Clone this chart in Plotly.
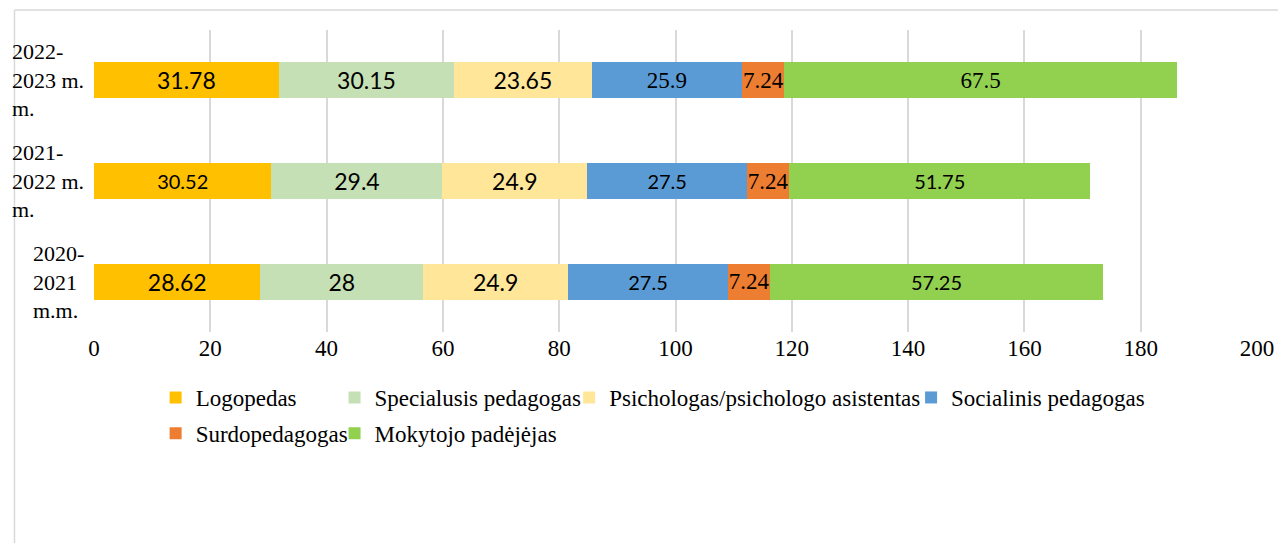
import plotly.graph_objects as go

# Data (bottom category first, as plotted)
years = ["2020-2021 m.m.", "2021-2022 m. m.", "2022-2023 m. m."]
year_labels = ["2020-<br>2021<br>m.m.", "2021-<br>2022 m.<br>m.", "2022-<br>2023 m.<br>m."]

series_names = ["Logopedas", "Specialusis pedagogas", "Psichologas/psichologo asistentas",
                "Socialinis pedagogas", "Surdopedagogas", "Mokytojo padėjėjas"]
logopedas = [28.62, 30.52, 31.78]
specialusis = [28, 29.4, 30.15]
psichologas = [24.9, 24.9, 23.65]
socialinis = [27.5, 27.5, 25.9]
surdopedagogas = [7.24, 7.24, 7.24]
mokytojo = [57.25, 51.75, 67.5]
x_ticks = [0, 20, 40, 60, 80, 100, 120, 140, 160, 180, 200]

colors = ["#FFC000", "#C5E0B4", "#FFE699", "#5B9BD5", "#ED7D31", "#92D050"]
values = [logopedas, specialusis, psichologas, socialinis, surdopedagogas, mokytojo]
legends = ["legend", "legend2", "legend3", "legend4", "legend", "legend2"]

SANS = "Lato, Carlito, sans-serif"
SERIF = "Liberation Serif, Times New Roman, serif"
# per-point label fonts (bottom, middle, top)
label_fonts = [
    [(SANS, 23), (SANS, 20), (SANS, 23)],
    [(SANS, 23), (SANS, 23), (SANS, 23)],
    [(SANS, 23), (SANS, 23), (SANS, 23)],
    [(SANS, 20), (SANS, 20), (SERIF, 23)],
    [(SERIF, 23), (SERIF, 23), (SERIF, 23)],
    [(SANS, 20), (SANS, 20), (SERIF, 23)],
]

fig = go.Figure()
for i, name in enumerate(series_names):
    fig.add_trace(go.Bar(
        y=years, x=values[i], name=name, orientation="h",
        marker=dict(color=colors[i], line=dict(width=0)),
        text=[str(v) for v in values[i]],
        textposition="inside", insidetextanchor="middle", constraintext="none",
        textangle=0,
        textfont=dict(family=[f for f, s in label_fonts[i]],
                      size=[s for f, s in label_fonts[i]], color="#000000"),
        legend=legends[i], legendgroup=name,
        hoverinfo="skip",
    ))

OFF = 8  # page body margin
FW, FH = 1286 - OFF, 543 - OFF
# plot area in screen pixels: x 94..1264, y 30..332
L = 94 - OFF
T = 30 - OFF
R = FW - (1264 - OFF)
B = FH - (332 - OFF)
W = FW - L - R
H = FH - T - B

def px_x(p):
    return (p - OFF - L) / W

def px_y(p):
    return (FH - B - (p - OFF)) / H

legend_common = dict(orientation="v", font=dict(family=SERIF, size=23, color="#000000"),
                     bgcolor="rgba(0,0,0,0)", xanchor="left", yanchor="top",
                     tracegroupgap=3, itemwidth=30, traceorder="grouped")

fig.update_layout(
    width=FW, height=FH,
    margin=dict(l=L, r=R, t=T, b=B, pad=0),
    paper_bgcolor="white", plot_bgcolor="white",
    barmode="stack", bargap=0.64,
    showlegend=True,
    legend=dict(x=px_x(156), y=px_y(376), **legend_common),
    legend2=dict(x=px_x(336), y=px_y(376), **legend_common),
    legend3=dict(x=px_x(572), y=px_y(376), **legend_common),
    legend4=dict(x=px_x(916), y=px_y(376), **legend_common),
    xaxis=dict(range=[0, 200], tickvals=x_ticks, showgrid=True, gridcolor="#D9D9D9",
               gridwidth=1.5, zeroline=False, showline=False, ticks="",
               tickfont=dict(family=SERIF, size=23, color="#000000")),
    yaxis=dict(categoryorder="array", categoryarray=years, range=[-0.5, 2.5],
               showticklabels=False, showgrid=False, zeroline=False, showline=False, ticks=""),
)

for yc, lab in zip(years, year_labels):
    fig.add_annotation(x=px_x(86), xref="paper", y=yc, yref="y", text=lab,
                       showarrow=False, xanchor="right", yanchor="middle", align="left",
                       font=dict(family=SERIF, size=22, color="#000000"))

# outer chart border (cropped frame)
border = dict(color="#D9D9D9", width=1.5)
fig.add_shape(type="line", xref="paper", yref="paper", x0=px_x(14), x1=px_x(1300),
              y0=px_y(10), y1=px_y(10), line=border)
fig.add_shape(type="line", xref="paper", yref="paper", x0=px_x(14), x1=px_x(14),
              y0=px_y(10), y1=px_y(560), line=border)

fig.write_html("out.html")
